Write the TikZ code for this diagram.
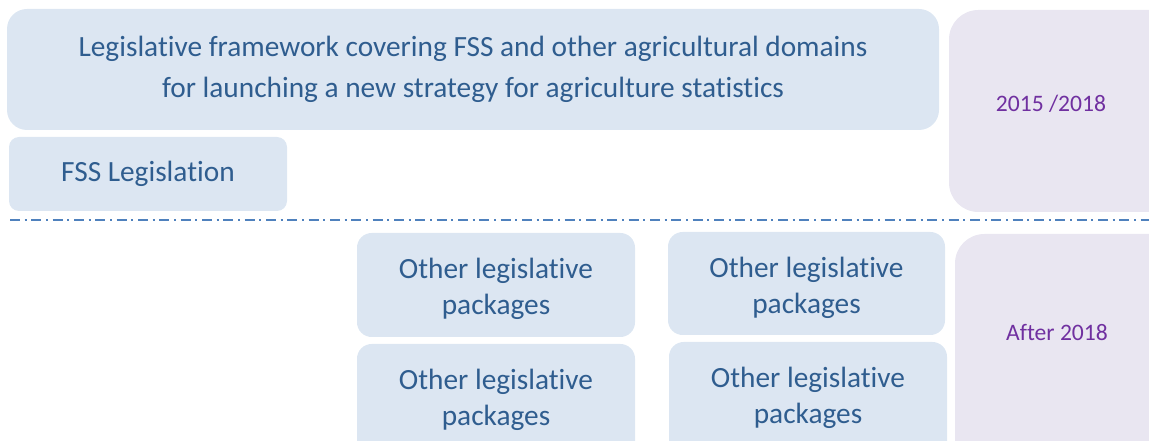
\documentclass[tikz,border=0pt]{standalone}
\usepackage{fontspec}
\setmainfont[Ligatures=CommonOff]{Carlito}
\usetikzlibrary{fit}
\definecolor{boxblue}{HTML}{DCE6F2}
\definecolor{txtblue}{HTML}{2F5D8F}
\definecolor{boxlilac}{HTML}{E9E6F1}
\definecolor{txtpurple}{HTML}{7030A0}
\definecolor{lineblue}{HTML}{4F81BD}
\tikzset{
  bluebox/.style={fill=boxblue, draw=none, inner sep=0pt},
  lilacbox/.style={fill=boxlilac, draw=none, inner sep=0pt, rounded corners=22pt},
  bluetext/.style={text=txtblue, align=center, inner sep=0pt,
    font=\fontsize{22pt}{27pt}\selectfont},
  purpletext/.style={text=txtpurple, align=center, inner sep=0pt,
    font=\fontsize{17.7pt}{21pt}\selectfont},
  divider/.style={draw=lineblue, line width=1.5pt,
    dash pattern=on 7.5pt off 3.5pt on 1.5pt off 3.5pt}
}
\begin{document}
\begin{tikzpicture}[x=0.75pt, y=-0.75pt]
\useasboundingbox (0,0) rectangle (1149,441);
\clip (0,0) rectangle (1149,441);

% upper period: 2015-2018
\node[bluebox, rounded corners=15pt, fit={(7,9) (939,130)}] (frame) {};
\node[bluetext, font=\fontsize{22pt}{30.75pt}\selectfont] (frametxt) at (frame.center)
  {Legislative framework covering FSS and other agricultural domains\\
   for launching a new strategy for agriculture statistics};
\node[bluebox, rounded corners=7.5pt, fit={(9,137) (287,211)}] (fss) {};
\node[bluetext] (fsstxt) at (fss.center) {FSS Legislation};
\node[lilacbox, fit={(949,10) (1180,212)}] (p1) {};
\node[purpletext] (p1txt) at (1051,104) {2015 /2018};

% separator between the two periods
\coordinate (sepL) at (10,220);
\coordinate (sepR) at (1149,220);
\draw[divider] (sepL) -- (sepR);

% lower period: after 2018
\node[bluebox, rounded corners=11pt, fit={(357,233) (635,337)}] (o1) {};
\node[bluetext] (o1txt) at ([yshift=-3pt]o1.center) {Other legislative\\packages};
\node[bluebox, rounded corners=11pt, fit={(357,344) (635,460)}] (o2) {};
\node[bluetext] (o2txt) at (496,400) {Other legislative\\packages};
\node[bluebox, rounded corners=11pt, fit={(668,232) (945,335)}] (o3) {};
\node[bluetext] (o3txt) at ([yshift=-3pt]o3.center) {Other legislative\\packages};
\node[bluebox, rounded corners=11pt, fit={(669,342) (947,460)}] (o4) {};
\node[bluetext] (o4txt) at (808,398) {Other legislative\\packages};
\node[lilacbox, fit={(955,234) (1180,480)}] (p2) {};
\node[purpletext] (p2txt) at (1057,332) {After 2018};
\end{tikzpicture}
\end{document}
